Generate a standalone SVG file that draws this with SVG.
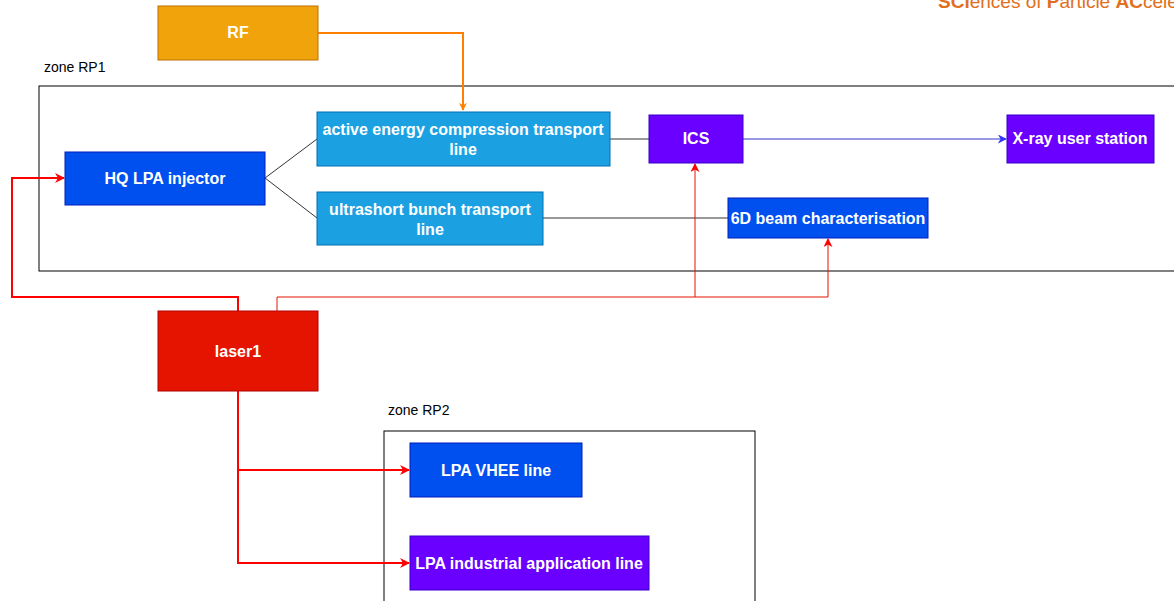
<svg xmlns="http://www.w3.org/2000/svg" width="1174" height="601" viewBox="0 0 1174 601">
<style>
.lbl{font-family:"Liberation Sans",Arial,sans-serif;font-size:16px;font-weight:bold;fill:#fff;text-anchor:middle}
.zone{font-family:"Liberation Sans",Arial,sans-serif;font-size:14px;fill:#000}
.zr{fill:none;stroke:#000;stroke-width:1}
.c{fill:none;stroke:#333;stroke-width:1}
.red2{fill:none;stroke:#ff0000;stroke-width:2}
.red1{fill:none;stroke:#e51400;stroke-width:1}
</style>
<defs>
<marker id="aOr" viewBox="0 0 10 10" refX="9" refY="5" markerWidth="8" markerHeight="8" markerUnits="userSpaceOnUse" orient="auto"><path d="M0,0 L10,5 L0,10 L3,5 Z" fill="#ff8000"/></marker>
<marker id="aRed" viewBox="0 0 10 10" refX="9" refY="5" markerWidth="10" markerHeight="10" markerUnits="userSpaceOnUse" orient="auto"><path d="M0,0 L10,5 L0,10 L3,5 Z" fill="#ff0000"/></marker>
<marker id="aRedS" viewBox="0 0 10 10" refX="9" refY="5" markerWidth="9" markerHeight="9" markerUnits="userSpaceOnUse" orient="auto"><path d="M0,0 L10,5 L0,10 L3,5 Z" fill="#ff0000"/></marker>
<marker id="aBlue" viewBox="0 0 10 10" refX="9" refY="5" markerWidth="9" markerHeight="9" markerUnits="userSpaceOnUse" orient="auto"><path d="M0,0 L10,5 L0,10 L3,5 Z" fill="#3333ff"/></marker>
</defs>
<rect width="1174" height="601" fill="#fff"/>
<text x="938" y="8" font-family="'Liberation Sans',Arial,sans-serif" font-size="19" fill="#e07020"><tspan font-weight="bold">SCi</tspan>ences of <tspan font-weight="bold">P</tspan>article <tspan font-weight="bold">AC</tspan>celerators</text>
<g id="zoneRP1">
<text class="zone" x="44" y="72">zone RP1</text>
<rect class="zr" x="39" y="86" width="1150" height="185"/>
</g>
<g id="zoneRP2">
<text class="zone" x="388" y="415">zone RP2</text>
<rect class="zr" x="384" y="431" width="371" height="190"/>
</g>
<g id="connectors">
<path d="M318,33 H463 V110" fill="none" stroke="#ff8000" stroke-width="2" marker-end="url(#aOr)"/>
<path class="c" d="M265,178 L317,139"/>
<path class="c" d="M265,178 L317,218"/>
<path class="c" d="M610,139 H649"/>
<path class="c" d="M543,218 H728"/>
<path d="M743,139 H1006" fill="none" stroke="#3333cc" stroke-width="1" marker-end="url(#aBlue)"/>
<path class="red2" d="M238,311 V297 H12 V178 H64" marker-end="url(#aRed)"/>
<path class="red1" d="M277,311 V297 H695 V164" marker-end="url(#aRedS)"/>
<path class="red1" d="M695,297 H828 V239" marker-end="url(#aRedS)"/>
<path class="red2" d="M238,391 V470 H409" marker-end="url(#aRed)"/>
<path class="red2" d="M238,470 V563 H409" marker-end="url(#aRed)"/>
</g>
<g id="rf"><rect x="158" y="6" width="160" height="54" fill="#f0a30a" stroke="#bd7000"/><text class="lbl" x="238" y="38">RF</text></g>
<g id="hq"><rect x="65" y="152" width="200" height="53" fill="#0050ef" stroke="#001dbc"/><text class="lbl" x="165" y="184">HQ LPA injector</text></g>
<g id="aect"><rect x="317" y="112" width="293" height="54" fill="#1ba1e2" stroke="#006eaf"/><text class="lbl" x="463" y="135">active energy compression transport</text><text class="lbl" x="463" y="155">line</text></g>
<g id="ubt"><rect x="317" y="192" width="226" height="53" fill="#1ba1e2" stroke="#006eaf"/><text class="lbl" x="430" y="215">ultrashort bunch transport</text><text class="lbl" x="430" y="235">line</text></g>
<g id="ics"><rect x="649" y="115" width="94" height="48" fill="#6a00ff" stroke="#3700cc"/><text class="lbl" x="696" y="144">ICS</text></g>
<g id="xray"><rect x="1007" y="115" width="147" height="48" fill="#6a00ff" stroke="#3700cc"/><text class="lbl" x="1080" y="144">X-ray user station</text></g>
<g id="bc6d"><rect x="728" y="198" width="200" height="40" fill="#0050ef" stroke="#001dbc"/><text class="lbl" x="828" y="224">6D beam characterisation</text></g>
<g id="laser1"><rect x="158" y="311" width="160" height="80" fill="#e51400" stroke="#b20000"/><text class="lbl" x="238" y="357">laser1</text></g>
<g id="vhee"><rect x="410" y="443" width="172" height="54" fill="#0050ef" stroke="#001dbc"/><text class="lbl" x="496" y="476">LPA VHEE line</text></g>
<g id="indus"><rect x="410" y="536" width="239" height="54" fill="#6a00ff" stroke="#3700cc"/><text class="lbl" x="529" y="569">LPA industrial application line</text></g>
</svg>
